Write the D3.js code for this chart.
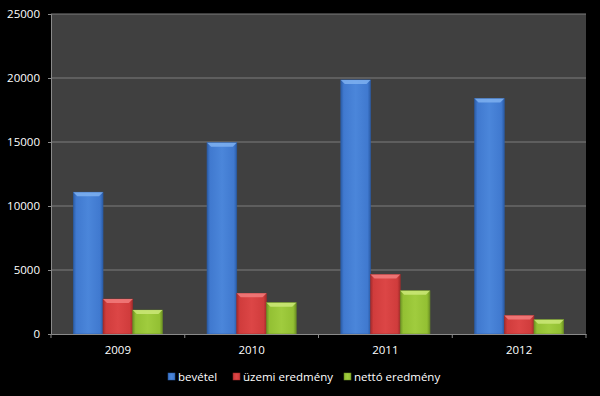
<!DOCTYPE html>
<html>
<head>
<meta charset="utf-8">
<script src="https://cdn.jsdelivr.net/npm/d3@7"></script>
<style>
  body { margin: 0; background: #000; }
  text { font-family: "Open Sans", "DejaVu Sans", sans-serif; fill: #fff; }
</style>
</head>
<body>
<svg id="chart" width="600" height="396"></svg>
<script>
// chart data
var years = ["2009", "2010", "2011", "2012"];
var seriesNames = ["bevétel", "üzemi eredmény", "nettó eredmény"];
var bevetel = [11080, 14950, 19850, 18400];
var uzemi = [2730, 3180, 4650, 1450];
var netto = [1870, 2450, 3380, 1120];
var yTicks = [0, 5000, 10000, 15000, 20000, 25000];

var colors = [
  { base: "#4079cf", mid: "#4b86da", light: "#7eb0f0", dark: "#2b5da8" },
  { base: "#d03c3c", mid: "#dc4646", light: "#f27c7c", dark: "#a42b2b" },
  { base: "#93c033", mid: "#a0cc3e", light: "#cbe878", dark: "#6d9224" }
];

function drawChart() {
  var svg = d3.select("#chart");
  var width = +svg.attr("width");
  var height = +svg.attr("height");

  var margin = { top: 14, right: 14, bottom: 62, left: 51 };
  var chartWidth = width - margin.left - margin.right;
  var chartHeight = height - margin.top - margin.bottom;

  svg.append("rect")
    .attr("width", width)
    .attr("height", height)
    .attr("fill", "#000");

  // gradients for the bevelled bars
  var defs = svg.append("defs");
  colors.forEach(function(c, i) {
    var g = defs.append("linearGradient")
      .attr("id", "grad" + i)
      .attr("x1", "0").attr("x2", "1").attr("y1", "0").attr("y2", "0");
    g.append("stop").attr("offset", "0%").attr("stop-color", c.dark);
    g.append("stop").attr("offset", "10%").attr("stop-color", c.base);
    g.append("stop").attr("offset", "50%").attr("stop-color", c.mid);
    g.append("stop").attr("offset", "90%").attr("stop-color", c.base);
    g.append("stop").attr("offset", "100%").attr("stop-color", c.dark);
  });

  var x0 = d3.scaleBand()
    .domain(years)
    .range([0, chartWidth]);

  var barW = x0.bandwidth() / 4.5;
  var x1 = d3.scaleBand()
    .domain(seriesNames)
    .range([barW * 0.75, barW * 3.75]);

  var y = d3.scaleLinear()
    .domain([0, 25000])
    .range([chartHeight, 0]);

  var g = svg.append("g")
    .attr("transform", `translate(${margin.left},${margin.top})`);

  g.append("rect")
    .attr("width", chartWidth)
    .attr("height", chartHeight)
    .attr("fill", "#404040");

  // gridlines
  g.append("g")
    .selectAll("line")
    .data(yTicks.slice(1))
    .enter().append("line")
    .attr("x1", 0).attr("x2", chartWidth)
    .attr("y1", d => y(d)).attr("y2", d => y(d))
    .attr("stroke", "#7c7c7c")
    .attr("stroke-width", 1);

  // y axis
  var yAxis = d3.axisLeft(y)
    .tickValues(yTicks)
    .tickSize(3)
    .tickPadding(8)
    .tickFormat(d3.format("d"));

  var ya = g.append("g").call(yAxis);
  ya.select(".domain").attr("stroke", "#8a8a8a");
  ya.selectAll(".tick line").attr("stroke", "#8a8a8a");
  ya.selectAll("text")
    .style("font-size", "11.5px")
    .attr("fill", "#fff");

  // bars
  var series = [bevetel, uzemi, netto];
  series.forEach(function(vals, si) {
    var grp = g.append("g");
    var data = years.map((yr, i) => ({ year: yr, value: vals[i] }));
    grp.selectAll("rect")
      .data(data)
      .enter().append("rect")
      .attr("x", d => x0(d.year) + x1(seriesNames[si]))
      .attr("y", d => y(d.value))
      .attr("width", x1.bandwidth())
      .attr("height", d => chartHeight - y(d.value))
      .attr("fill", "url(#grad" + si + ")")
      .attr("stroke", colors[si].dark)
      .attr("stroke-width", 0.6);

    // bevel on top
    grp.selectAll("path")
      .data(data)
      .enter().append("path")
      .attr("d", function(d) {
        var bx = x0(d.year) + x1(seriesNames[si]);
        var by = y(d.value);
        var w = x1.bandwidth();
        return `M${bx},${by} L${bx + w},${by} L${bx + w - 4},${by + 4} L${bx + 4},${by + 4} Z`;
      })
      .attr("fill", colors[si].light)
      .attr("opacity", 0.85);
  });

  // x axis
  var xAxis = d3.axisBottom(x0)
    .tickSize(0)
    .tickPadding(12);

  var xa = g.append("g")
    .attr("transform", `translate(0,${chartHeight})`)
    .call(xAxis);
  xa.select(".domain").attr("stroke", "#8a8a8a");
  xa.selectAll("text")
    .style("font-size", "11.5px")
    .attr("fill", "#fff");

  // category boundary ticks
  xa.selectAll(".bound")
    .data(d3.range(years.length + 1))
    .enter().append("line")
    .attr("x1", i => i * x0.step())
    .attr("x2", i => i * x0.step())
    .attr("y1", 0).attr("y2", 4)
    .attr("stroke", "#8a8a8a");

  // legend
  var legendX = [168, 233, 344];
  var legend = svg.append("g")
    .attr("transform", `translate(0,377)`);

  seriesNames.forEach(function(name, i) {
    legend.append("rect")
      .attr("x", legendX[i])
      .attr("y", -4)
      .attr("width", 7)
      .attr("height", 7)
      .attr("fill", "url(#grad" + i + ")")
      .attr("stroke", colors[i].dark)
      .attr("stroke-width", 0.5);
    legend.append("text")
      .attr("x", legendX[i] + 10)
      .attr("y", 4)
      .style("font-size", "11.5px")
      .text(name);
  });
}

drawChart();
</script>
</body>
</html>
